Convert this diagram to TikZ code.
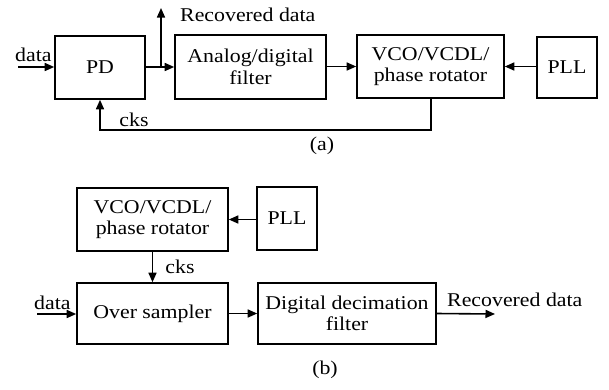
\documentclass[tikz,border=0pt]{standalone}
\usepackage{fontspec}
\setmainfont{Liberation Serif}[FakeStretch=1.12]
\usetikzlibrary{arrows.meta}
\begin{document}
\begin{tikzpicture}[x=1pt,y=-1pt,
  font=\fontsize{19.5}{21.5}\selectfont,
  blk/.style={draw,line width=1.6pt,align=center,inner sep=0pt},
  conn/.style={line width=1.6pt,-{Triangle[length=9.5pt,width=8pt]}},
  lbl/.style={inner sep=0pt}]
\useasboundingbox (0,0) rectangle (609,389);
% (a)
\node[blk,minimum width=90pt,minimum height=63pt] (pd) at (100,67.5) {PD};
\node[blk,minimum width=151pt,minimum height=64pt] (af) at (250.5,67) {Analog/digital\\filter};
\node[blk,minimum width=147pt,minimum height=63pt] (vco) at (430.5,66.5) {VCO/VCDL/\\phase rotator};
\node[blk,minimum width=60pt,minimum height=61pt] (pll) at (567,67.5) {PLL};
\coordinate (din) at (18,67);
\node[lbl,anchor=south west] (dlab) at (15,62) {data};
\draw[conn] (din) -- (din -| pd.west);
\coordinate (br) at (161,67);
\coordinate (rtop) at (161,8);
\draw[conn] (pd.east |- br) -- (af.west |- br);
\draw[conn] (br) -- (rtop);
\node[lbl,anchor=west] (rlab) at (180,15) {Recovered data};
\draw[conn] (af.east |- vco.west) -- (vco.west);
\draw[conn] (pll.west |- vco.east) -- (vco.east);
\coordinate (fb1) at (431,130);
\coordinate (fb2) at (100,130);
\draw[conn] (vco.south -| fb1) -- (fb1) -- (fb2) -- (pd.south);
\node[lbl] (cksa) at (134,120) {cks};
\node[lbl] (capa) at (322,146) {(a)};
% (b)
\node[blk,minimum width=151pt,minimum height=63pt] (vcob) at (152.5,219.5) {VCO/VCDL/\\phase rotator};
\node[blk,minimum width=60pt,minimum height=63pt] (pllb) at (287,218.5) {PLL};
\node[blk,minimum width=151pt,minimum height=61pt] (os) at (152.5,313.5) {Over sampler};
\node[blk,minimum width=178pt,minimum height=61pt] (ddf) at (347,313.5) {Digital decimation\\filter};
\draw[conn] (pllb.west |- vcob.east) -- (vcob.east);
\draw[conn] (vcob.south) -- (os.north);
\node[lbl] (cksb) at (180,267) {cks};
\coordinate (dinb) at (37,314);
\node[lbl,anchor=south west] (dlabb) at (34,310) {data};
\draw[conn] (dinb) -- (dinb -| os.west);
\draw[conn] (os.east) -- (ddf.west);
\coordinate (dout) at (495,314);
\draw[conn] (ddf.east) -- (dout);
\node[lbl,anchor=west] (rlabb) at (447,300) {Recovered data};
\node[lbl] (capb) at (325,370) {(b)};
\end{tikzpicture}
\end{document}
